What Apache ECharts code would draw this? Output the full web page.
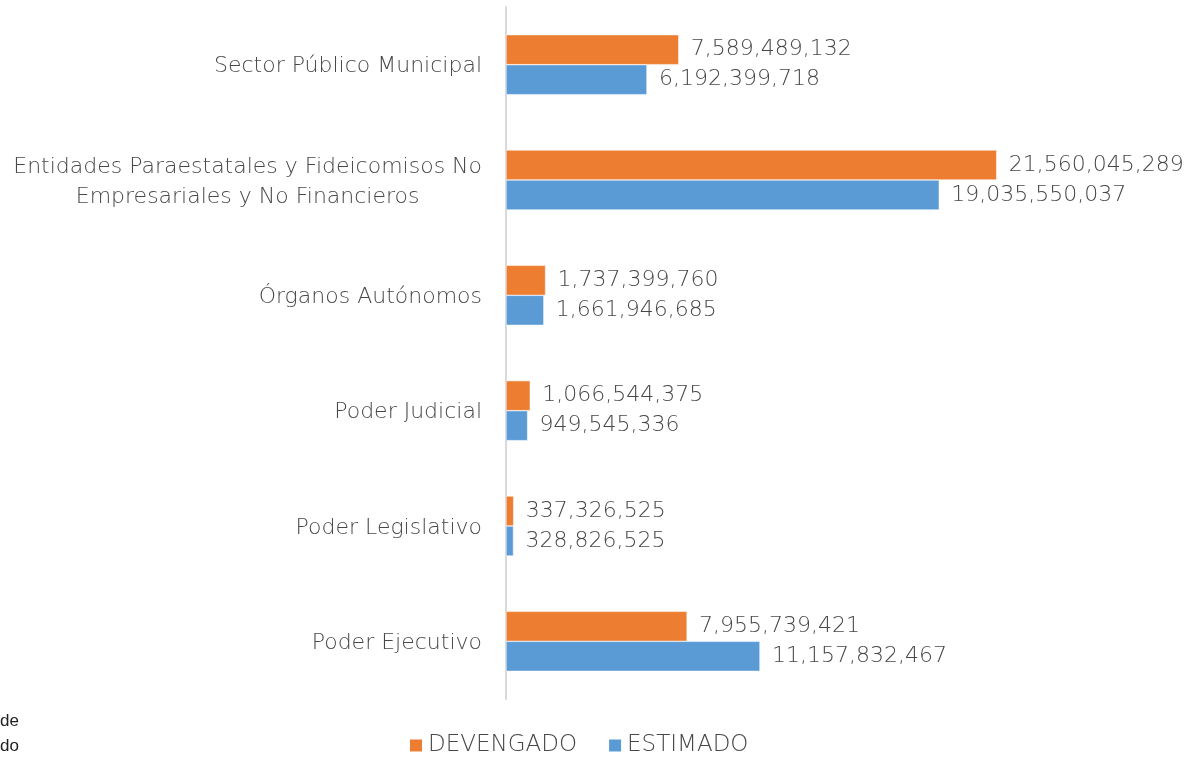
<!DOCTYPE html>
<html>
<head>
<meta charset="utf-8">
<script src="https://cdn.jsdelivr.net/npm/echarts@6/dist/echarts.min.js"></script>
<style>html,body{margin:0;padding:0;background:#fff;}#c{width:1193px;height:759px;}</style>
</head>
<body>
<div id="c"></div>
<script>
const categories = ["Poder Ejecutivo", "Poder Legislativo", "Poder Judicial", "Órganos Autónomos", "Entidades Paraestatales y Fideicomisos No\nEmpresariales y No Financieros", "Sector Público Municipal"];
const devengado = [7955739421, 337326525, 1066544375, 1737399760, 21560045289, 7589489132];
const estimado = [11157832467, 328826525, 949545336, 1661946685, 19035550037, 6192399718];
const seriesNames = ["DEVENGADO", "ESTIMADO"];

const FONT = "'DejaVu Sans'";
const FW = 200;
const FS = 22;
const TXT = "#474747";
const chart = echarts.init(document.getElementById('c'));
const fmt = v => Number(v).toLocaleString('en-US');
function labelCfg() {
  return { show: true, position: 'right', distance: 12, color: TXT, fontFamily: FONT, fontWeight: FW, fontSize: FS,
    padding: [3, 0, 0, 0], formatter: p => fmt(p.value) };
}
chart.setOption({
  animation: false,
  backgroundColor: '#fff',
  grid: { left: 506, top: 7, width: 569, bottom: 60, containLabel: false },
  xAxis: { type: 'value', min: 0, max: 25e9, show: false },
  yAxis: {
    type: 'category', data: categories,
    axisLine: { show: true, lineStyle: { color: '#d9d9d9', width: 2 } },
    axisTick: { show: false },
    axisLabel: {
      margin: 24, color: TXT, fontFamily: FONT, fontWeight: FW, fontSize: FS, lineHeight: 30,
      padding: [4, 0, 0, 0],
      formatter: v => v.split('\n').map(l => '{c|' + l + '}').join('\n'),
      rich: { c: { align: 'center', color: TXT, fontFamily: FONT, fontWeight: FW, fontSize: FS, lineHeight: 30 } }
    }
  },
  legend: {
    bottom: -3, left: 403, itemWidth: 14, itemHeight: 14, itemGap: 30, icon: 'rect',
    textStyle: { color: TXT, fontFamily: FONT, fontWeight: FW, fontSize: 23 },
    data: seriesNames
  },
  series: [
    { name: seriesNames[0], type: 'bar', data: devengado, barWidth: 30, barGap: '0%',
      itemStyle: { color: '#ED7D31', borderColor: '#fff', borderWidth: 0.5 }, label: labelCfg() },
    { name: seriesNames[1], type: 'bar', data: estimado, barWidth: 30, barGap: '0%',
      itemStyle: { color: '#5B9BD5', borderColor: '#fff', borderWidth: 0.5 }, label: labelCfg() }
  ],
  graphic: [
    { type: 'text', left: 0, top: 713, style: { text: 'de', fontFamily: 'Liberation Sans', fontSize: 17, fill: '#222' } },
    { type: 'text', left: 0, top: 738, style: { text: 'do', fontFamily: 'Liberation Sans', fontSize: 17, fill: '#222' } }
  ]
});
</script>
</body>
</html>
